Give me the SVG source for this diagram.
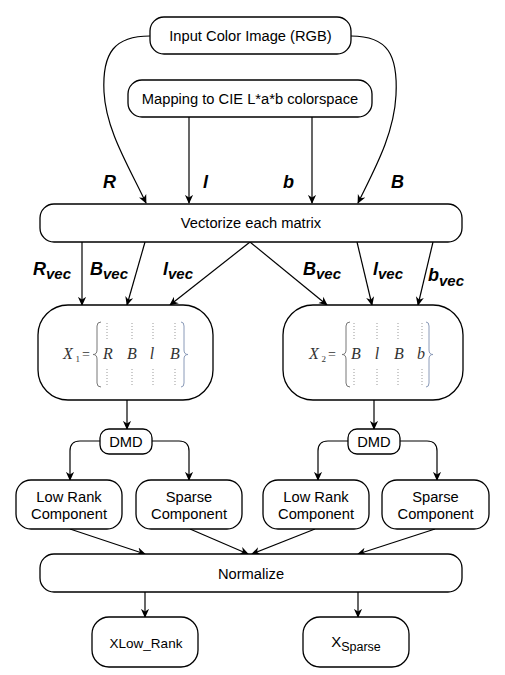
<svg xmlns="http://www.w3.org/2000/svg" width="505" height="675" viewBox="0 0 505 675">
<style>
.box{fill:#fff;stroke:#000;stroke-width:1.3}
.t{font-family:"Liberation Sans",Arial,sans-serif;font-size:14.7px;fill:#000;text-anchor:middle}
.lbl{font-family:"Liberation Sans",Arial,sans-serif;font-size:18px;font-weight:bold;font-style:italic;fill:#000}
.sub{font-size:15px}
.e{fill:none;stroke:#000;stroke-width:1.2}
.m{font-family:"Liberation Serif","Times New Roman",serif;font-style:italic;font-size:16px;fill:#333;text-anchor:middle}
.mx{font-family:"Liberation Serif","Times New Roman",serif;font-style:italic;font-size:16px;fill:#333}
.mn{font-family:"Liberation Serif","Times New Roman",serif;font-size:14px;fill:#333}
.dot{stroke:#999;stroke-width:1;stroke-dasharray:1,2}
.br{fill:none;stroke:#777;stroke-width:1}
.rb{fill:none;stroke:#8a9ab8;stroke-width:1}
</style>
<defs>
<marker id="a" viewBox="0 0 10 10" refX="9" refY="5" markerWidth="9" markerHeight="9" orient="auto" markerUnits="userSpaceOnUse">
<path d="M0,0.5 L10,5 L0,9.5 L3,5 Z" fill="#000"/>
</marker>
</defs>
<g id="connectors">
<path class="e" marker-end="url(#a)" d="M150,36 C115,36 102,52 104,92 C106,130 128,165 146,203"/>
<path class="e" marker-end="url(#a)" d="M351,36 C388,36 398,55 396,95 C394,135 374,170 358,203"/>
<path class="e" marker-end="url(#a)" d="M189,117 L189,203"/>
<path class="e" marker-end="url(#a)" d="M312,117 L312,203"/>
<path class="e" marker-end="url(#a)" d="M82,242 L82,305"/>
<path class="e" marker-end="url(#a)" d="M145,242 L127,305"/>
<path class="e" marker-end="url(#a)" d="M250,242 L170,305"/>
<path class="e" marker-end="url(#a)" d="M250,242 L327,305"/>
<path class="e" marker-end="url(#a)" d="M357,242 L372,305"/>
<path class="e" marker-end="url(#a)" d="M433,242 L418,305"/>
<path class="e" marker-end="url(#a)" d="M127,400 L127,429"/>
<path class="e" marker-end="url(#a)" d="M374,400 L374,429"/>
<path class="e" marker-end="url(#a)" d="M100,441 L80,441 Q70,441 70,451 L70,480"/>
<path class="e" marker-end="url(#a)" d="M152,441 L179,441 Q189,441 189,451 L189,480"/>
<path class="e" marker-end="url(#a)" d="M348,441 L328,441 Q318,441 318,451 L318,480"/>
<path class="e" marker-end="url(#a)" d="M400,441 L427,441 Q437,441 437,451 L437,480"/>
<path class="e" marker-end="url(#a)" d="M70,529 L145,554"/>
<path class="e" marker-end="url(#a)" d="M190,529 L248,554"/>
<path class="e" marker-end="url(#a)" d="M315,529 L252,554"/>
<path class="e" marker-end="url(#a)" d="M435,529 L358,554"/>
<path class="e" marker-end="url(#a)" d="M145,592 L145,617"/>
<path class="e" marker-end="url(#a)" d="M358,592 L358,617"/>
</g>
<g id="labels">
<text class="lbl" x="103" y="188">R</text>
<text class="lbl" x="203" y="188">l</text>
<text class="lbl" x="283" y="188">b</text>
<text class="lbl" x="391" y="188">B</text>
<text class="lbl" x="33" y="275">R<tspan class="sub" dy="4">vec</tspan></text>
<text class="lbl" x="90" y="275">B<tspan class="sub" dy="4">vec</tspan></text>
<text class="lbl" x="163" y="275">l<tspan class="sub" dy="4">vec</tspan></text>
<text class="lbl" x="303" y="275">B<tspan class="sub" dy="4">vec</tspan></text>
<text class="lbl" x="373" y="275">l<tspan class="sub" dy="4">vec</tspan></text>
<text class="lbl" x="428" y="281">b<tspan class="sub" dy="5">vec</tspan></text>
</g>
<g id="input">
<rect class="box" x="150" y="17" width="201" height="37" rx="14"/>
<text class="t" x="250.5" y="41">Input Color Image (RGB)</text>
</g>
<g id="mapping">
<rect class="box" x="128" y="80" width="244" height="37" rx="14"/>
<text class="t" x="250" y="104">Mapping to CIE L*a*b colorspace</text>
</g>
<g id="vectorize">
<rect class="box" x="40" y="204" width="422" height="38" rx="14"/>
<text class="t" x="251" y="228">Vectorize each matrix</text>
</g>
<g id="x1">
<rect class="box" x="38" y="305" width="175" height="95" rx="30"/>
<text class="mx" x="63" y="359">X</text>
<text class="mn" x="75.5" y="362" style="font-size:9px">1</text>
<text class="mn" x="82" y="359">=</text>
<path class="br" d="M101,322 Q97,322 97,326 L97,350 Q97,354.5 93,354.5 Q97,354.5 97,359 L97,383 Q97,387 101,387"/>
<path class="rb" d="M181,322 Q184,322 184,326 L184,350 Q184,354.5 188,354.5 Q184,354.5 184,359 L184,383 Q184,387 181,387"/>
<path class="dot" d="M107,323 V340 M107,369 V387 M132,323 V340 M132,369 V387 M153,323 V340 M153,369 V387 M175,323 V340 M175,369 V387"/>
<text class="m" x="108" y="359">R</text>
<text class="m" x="132" y="359">B</text>
<text class="m" x="152" y="359">l</text>
<text class="m" x="175" y="359">B</text>
</g>
<g id="x2">
<rect class="box" x="283" y="305" width="180" height="95" rx="30"/>
<text class="mx" x="309" y="359">X</text>
<text class="mn" x="321.5" y="362" style="font-size:9px">2</text>
<text class="mn" x="328" y="359">=</text>
<path class="br" d="M350,322 Q346,322 346,326 L346,350 Q346,354.5 342,354.5 Q346,354.5 346,359 L346,383 Q346,387 350,387"/>
<path class="rb" d="M426,322 Q429,322 429,326 L429,350 Q429,354.5 433,354.5 Q429,354.5 429,359 L429,383 Q429,387 426,387"/>
<path class="dot" d="M354,323 V340 M354,369 V387 M377,323 V340 M377,369 V387 M398,323 V340 M398,369 V387 M422,323 V340 M422,369 V387"/>
<text class="m" x="356" y="359">B</text>
<text class="m" x="377" y="359">l</text>
<text class="m" x="399" y="359">B</text>
<text class="m" x="421" y="359">b</text>
</g>
<g id="dmd1">
<rect class="box" x="100" y="429" width="52" height="25" rx="9"/>
<text class="t" x="126" y="447">DMD</text>
</g>
<g id="dmd2">
<rect class="box" x="348" y="429" width="52" height="25" rx="9"/>
<text class="t" x="374" y="447">DMD</text>
</g>
<g id="lowrank1">
<rect class="box" x="16" y="480" width="106" height="49" rx="15"/>
<text class="t" x="69" y="502">Low Rank</text>
<text class="t" x="69" y="519">Component</text>
</g>
<g id="sparse1">
<rect class="box" x="136" y="480" width="106" height="49" rx="15"/>
<text class="t" x="189" y="502">Sparse</text>
<text class="t" x="189" y="519">Component</text>
</g>
<g id="lowrank2">
<rect class="box" x="263" y="480" width="106" height="49" rx="15"/>
<text class="t" x="316" y="502">Low Rank</text>
<text class="t" x="316" y="519">Component</text>
</g>
<g id="sparse2">
<rect class="box" x="382" y="480" width="107" height="49" rx="15"/>
<text class="t" x="435.5" y="502">Sparse</text>
<text class="t" x="435.5" y="519">Component</text>
</g>
<g id="normalize">
<rect class="box" x="40" y="554" width="422" height="38" rx="14"/>
<text class="t" x="251" y="579">Normalize</text>
</g>
<g id="xlowrank">
<rect class="box" x="92" y="617" width="106" height="50" rx="17"/>
<text class="t" x="146" y="648" style="font-size:13.5px">XLow_Rank</text>
</g>
<g id="xsparse">
<rect class="box" x="303" y="617" width="106" height="50" rx="17"/>
<text class="t" x="356" y="647" style="font-size:15px">X<tspan dy="4" style="font-size:12.5px">Sparse</tspan></text>
</g>
</svg>
